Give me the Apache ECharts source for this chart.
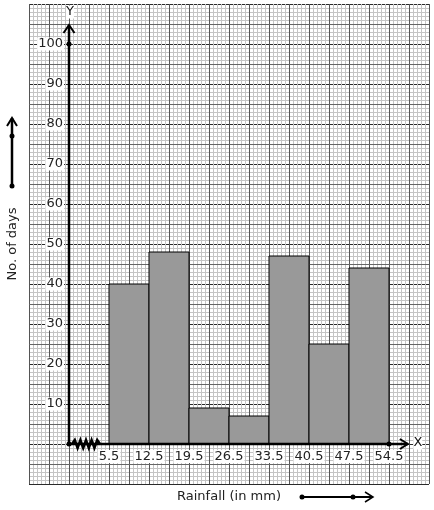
<!DOCTYPE html>
<html>
<head>
<meta charset="utf-8">
<script src="https://cdn.jsdelivr.net/npm/echarts@6/dist/echarts.min.js"></script>
<style>
html, body { margin: 0; padding: 0; background: #fff; }
#chart { width: 434px; height: 510px; }
</style>
</head>
<body>
<div id="chart"></div>
<script>
// class boundaries (mm) and number of days per class
const boundaries = [5.5, 12.5, 19.5, 26.5, 33.5, 40.5, 47.5, 54.5];
const days = [40, 48, 9, 7, 47, 25, 44];
const yTicks = [10, 20, 30, 40, 50, 60, 70, 80, 90, 100];

const bars = days.map((d, i) => [boundaries[i], boundaries[i + 1], d]);

const font = "DejaVu Sans";
const chart = echarts.init(document.getElementById("chart"));

function renderBar(params, api) {
  const p0 = api.coord([api.value(0), api.value(2)]);
  const p1 = api.coord([api.value(1), 0]);
  return {
    type: "rect",
    shape: { x: p0[0], y: p0[1], width: p1[0] - p0[0], height: p1[1] - p0[1] },
    style: { fill: "#999999", stroke: "#000", lineWidth: 1 }
  };
}

// axis lines, arrows, break mark
function renderAxes(params, api) {
  const o = api.coord([-1.5, 0]);
  const yTop = api.coord([-1.5, 104.75]);
  const xEnd = api.coord([57.8, 0]);
  const d100 = api.coord([-1.5, 100]);
  const dEnd = api.coord([54.5, 0]);
  const zig = [];
  for (let i = 0; i <= 10; i++) {
    zig.push([o[0] + 3 + i * 2.8, o[1] + (i % 2 ? -4 : 4) * (i === 0 || i === 10 ? 0 : 1)]);
  }
  const ls = { stroke: "#000", lineWidth: 2.5, fill: null };
  return {
    type: "group",
    children: [
      { type: "line", shape: { x1: o[0], y1: o[1], x2: xEnd[0], y2: xEnd[1] }, style: ls },
      { type: "line", shape: { x1: o[0], y1: o[1], x2: yTop[0], y2: yTop[1] }, style: ls },
      { type: "polyline", shape: { points: [[yTop[0] - 5.5, yTop[1] + 8], yTop, [yTop[0] + 5.5, yTop[1] + 8]] }, style: { stroke: "#000", lineWidth: 2, fill: null } },
      { type: "polyline", shape: { points: [[xEnd[0] - 8, xEnd[1] - 5], xEnd, [xEnd[0] - 8, xEnd[1] + 5]] }, style: { stroke: "#000", lineWidth: 2, fill: null } },
      { type: "polyline", shape: { points: zig }, style: { stroke: "#000", lineWidth: 2.5, fill: null } },
      { type: "circle", shape: { cx: o[0], cy: o[1], r: 2.5 }, style: { fill: "#000" } },
      { type: "circle", shape: { cx: d100[0], cy: d100[1], r: 2.5 }, style: { fill: "#000" } },
      { type: "circle", shape: { cx: dEnd[0], cy: dEnd[1], r: 2.5 }, style: { fill: "#000" } },
      { type: "text", style: { text: "Y", x: yTop[0] + 1, y: yTop[1] - 13, align: "center", verticalAlign: "middle", fontFamily: font, fontSize: 13, fill: "#111", backgroundColor: "#fff" } },
      { type: "text", style: { text: "X", x: xEnd[0] + 10, y: xEnd[1] - 1, align: "center", verticalAlign: "middle", fontFamily: font, fontSize: 13, fill: "#111", backgroundColor: "#fff" } }
    ]
  };
}

const hidden = { axisLine: { show: false }, axisTick: { show: false }, axisLabel: { show: false } };

const option = {
  animation: false,
  backgroundColor: "#fff",
  grid: { left: 29, top: 4, width: 400, height: 480, containLabel: false, outerBoundsMode: "none" },
  xAxis: [
    {
      type: "value", min: -8.5, max: 61.5, z: 5, position: "bottom", offset: -40,
      axisLine: { show: false, onZero: false },
      axisTick: { show: false },
      splitLine: { show: false },
      axisLabel: {
        customValues: boundaries, margin: 6,
        fontFamily: font, fontSize: 13, color: "#222",
        backgroundColor: "#fff", padding: [0, 1]
      },
      name: "Rainfall (in mm)", nameLocation: "middle", nameGap: 46,
      nameTextStyle: { fontFamily: font, fontSize: 13, color: "#222" }
    },
    // graph paper, vertical rulings
    Object.assign({
      type: "value", min: 0, max: 100, interval: 5, z: 2,
      splitLine: { show: true, lineStyle: { color: "#555", width: 1 } },
      minorTick: { show: false, splitNumber: 5 },
      minorSplitLine: { show: true, lineStyle: { color: "#c4c4c4", width: 1 } }
    }, hidden)
  ],
  yAxis: [
    {
      type: "value", min: -10, max: 110, offset: -40, z: 5,
      axisLine: { show: false, onZero: false },
      axisTick: { show: false },
      splitLine: { show: false },
      axisLabel: {
        customValues: yTicks, margin: 5,
        fontFamily: font, fontSize: 13, color: "#222",
        backgroundColor: "#fff", padding: [0, 1]
      },
      name: "No. of days", nameLocation: "middle", nameRotate: 90, nameGap: 50,
      nameTextStyle: { fontFamily: font, fontSize: 13, color: "#222" }
    },
    // graph paper, horizontal rulings (minor + every 10)
    Object.assign({
      type: "value", min: 0, max: 120, interval: 10, z: 1,
      splitLine: { show: true, lineStyle: { color: "#2a2a2a", width: 1 } },
      minorTick: { show: false, splitNumber: 10 },
      minorSplitLine: { show: true, lineStyle: { color: "#c4c4c4", width: 1 } }
    }, hidden),
    // in-between rulings (every 5, odd ones)
    Object.assign({
      type: "value", min: 0, max: 120, interval: 5, z: 3,
      splitLine: { show: true, lineStyle: { color: ["rgba(0,0,0,0)", "#666"], width: 1 } }
    }, hidden)
  ],
  series: [
    {
      type: "custom", xAxisIndex: 0, yAxisIndex: 0, z: 10,
      renderItem: renderBar, data: bars, silent: true
    },
    {
      type: "custom", xAxisIndex: 0, yAxisIndex: 0, z: 11,
      renderItem: renderAxes, data: [[0]], silent: true, clip: false
    }
  ],
  graphic: [
    { type: "line", shape: { x1: 12, y1: 186, x2: 12, y2: 118 }, style: { stroke: "#000", lineWidth: 2.5 } },
    { type: "polyline", shape: { points: [[7, 126], [12, 118], [17, 126]] }, style: { stroke: "#000", lineWidth: 2, fill: null } },
    { type: "circle", shape: { cx: 12, cy: 186, r: 2.5 }, style: { fill: "#000" } },
    { type: "circle", shape: { cx: 12, cy: 136, r: 2.5 }, style: { fill: "#000" } },
    { type: "line", shape: { x1: 302, y1: 497, x2: 373, y2: 497 }, style: { stroke: "#000", lineWidth: 2 } },
    { type: "polyline", shape: { points: [[365, 492], [373, 497], [365, 502]] }, style: { stroke: "#000", lineWidth: 1.5, fill: null } },
    { type: "circle", shape: { cx: 302, cy: 497, r: 2.5 }, style: { fill: "#000" } },
    { type: "circle", shape: { cx: 353, cy: 497, r: 2.5 }, style: { fill: "#000" } }
  ]
};

chart.setOption(option);
</script>
</body>
</html>
